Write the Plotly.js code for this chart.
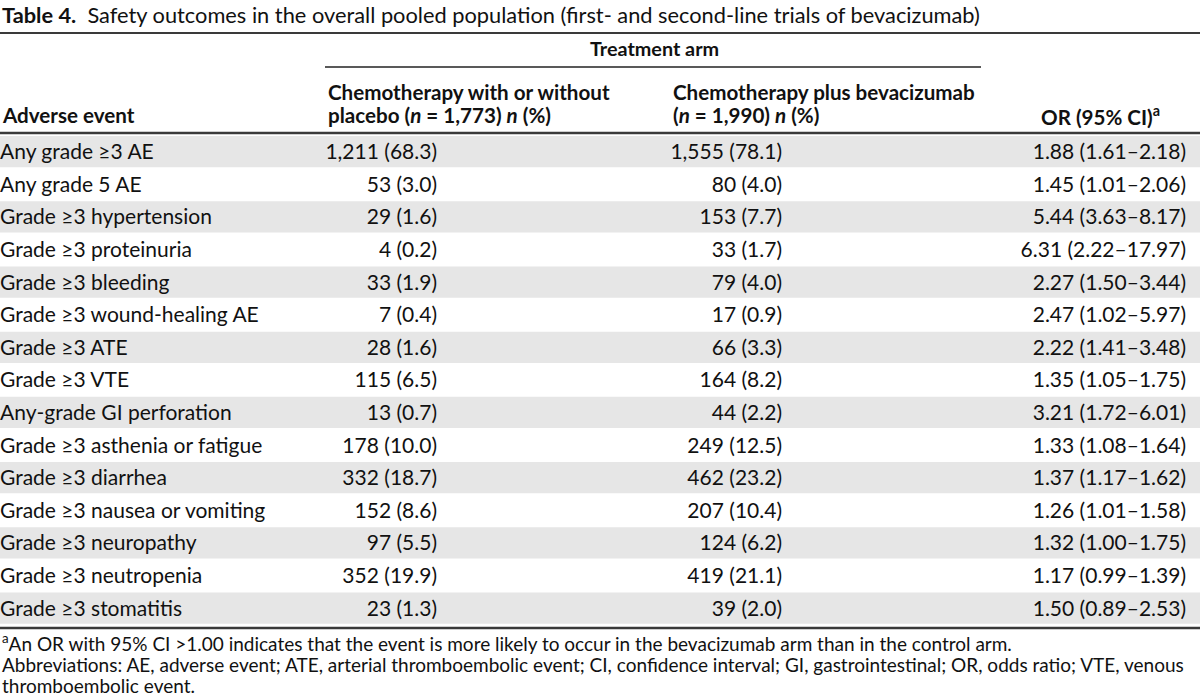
<!DOCTYPE html>
<html>
<head>
<meta charset="utf-8">
<script src="https://cdn.plot.ly/plotly-3.0.1.min.js"></script>
<style>html,body{margin:0;padding:0;background:#fff;}#chart{width:1200px;height:697px;}</style>
</head>
<body>
<div id="chart"></div>
<script>
// ---- data ----
const events = [
  "Any grade \u22653 AE", "Any grade 5 AE", "Grade \u22653 hypertension", "Grade \u22653 proteinuria",
  "Grade \u22653 bleeding", "Grade \u22653 wound-healing AE", "Grade \u22653 ATE", "Grade \u22653 VTE",
  "Any-grade GI perforation", "Grade \u22653 asthenia or fatigue", "Grade \u22653 diarrhea",
  "Grade \u22653 nausea or vomiting", "Grade \u22653 neuropathy", "Grade \u22653 neutropenia", "Grade \u22653 stomatitis"
];
const controlN   = [1211, 53, 29, 4, 33, 7, 28, 115, 13, 178, 332, 152, 97, 352, 23];
const controlPct = [68.3, 3.0, 1.6, 0.2, 1.9, 0.4, 1.6, 6.5, 0.7, 10.0, 18.7, 8.6, 5.5, 19.9, 1.3];
const bevN       = [1555, 80, 153, 33, 79, 17, 66, 164, 44, 249, 462, 207, 124, 419, 39];
const bevPct     = [78.1, 4.0, 7.7, 1.7, 4.0, 0.9, 3.3, 8.2, 2.2, 12.5, 23.2, 10.4, 6.2, 21.1, 2.0];
const orVal      = [1.88, 1.45, 5.44, 6.31, 2.27, 2.47, 2.22, 1.35, 3.21, 1.33, 1.37, 1.26, 1.32, 1.17, 1.50];
const orLo       = [1.61, 1.01, 3.63, 2.22, 1.50, 1.02, 1.41, 1.05, 1.72, 1.08, 1.17, 1.01, 1.00, 0.99, 0.89];
const orHi       = [2.18, 2.06, 8.17, 17.97, 3.44, 5.97, 3.48, 1.75, 6.01, 1.64, 1.62, 1.58, 1.75, 1.39, 2.53];

// ---- formatting ----
const fmtN = n => n.toLocaleString('en-US');
const cell = (n, p) => fmtN(n) + " (" + p.toFixed(1) + ")";
const controlText = controlN.map((n, i) => cell(n, controlPct[i]));
const bevText = bevN.map((n, i) => cell(n, bevPct[i]));
const orText = orVal.map((v, i) => v.toFixed(2) + " (" + orLo[i].toFixed(2) + "\u2013" + orHi[i].toFixed(2) + ")");

// ---- layout constants ----
const W = 1200, H = 697;
const FONT = "Lato, 'Open Sans', sans-serif";
const BODY = 21;
const rowTop = 152, rowPitch = 32.6;
const rowIdx = events.map((_, i) => i);
const yMin = -rowTop / rowPitch;
const yMax = yMin + H / rowPitch;
const py = p => 1 - p / H; // pixel -> paper

function textTrace(xpos, texts, pos) {
  return {
    type: 'scatter', mode: 'text',
    x: rowIdx.map(() => xpos), y: rowIdx.map(i => i + 0.06), text: texts,
    textposition: pos, cliponaxis: false, hoverinfo: 'skip',
    textfont: {family: FONT, size: BODY, color: '#111'}
  };
}

const traces = [
  textTrace(0, events, 'middle right'),
  textTrace(437, controlText, 'middle left'),
  textTrace(782, bevText, 'middle left'),
  textTrace(1186, orText, 'middle left')
];

const shapes = [];
rowIdx.filter(i => i % 2 === 0).forEach(i => {
  shapes.push({type: 'rect', xref: 'paper', yref: 'y', x0: 0, x1: 1, y0: i - 0.49, y1: i + 0.47,
    fillcolor: '#e6e6e6', line: {width: 0}, layer: 'below'});
});
const hline = (p, x0, x1, w, c) => ({type: 'line', xref: 'x', yref: 'paper', x0: x0, x1: x1, y0: py(p), y1: py(p),
  line: {color: c, width: w}});
shapes.push(hline(33, 0, 1200, 2.2, '#3a3a3a'));
shapes.push(hline(67, 325, 981, 1.6, '#222'));
shapes.push(hline(133, 0, 1200, 2.6, '#3a3a3a'));
shapes.push(hline(628, 0, 1200, 2.6, '#3a3a3a'));

const ann = (txt, x, p, xa, size, extra) => Object.assign({
  text: txt, xref: 'x', yref: 'paper', x: x, y: py(p), xanchor: xa, yanchor: 'middle',
  showarrow: false, font: {family: FONT, size: size, color: '#111'}
}, extra || {});

const HB = 20.6;
const FN = 19;
const annotations = [
  ann("<b>Table 4.</b>  Safety outcomes in the overall pooled population (first- and second-line trials of bevacizumab)", 0, 14, 'left', 21.8),
  ann("<b>Treatment arm</b>", 654, 48, 'center', 19.8),
  ann("<b>Adverse event</b>", 0, 115, 'left', HB),
  ann("<b>Chemotherapy with or without</b>", 326, 92, 'left', HB),
  ann("<b>placebo (<i>n</i> = 1,773) <i>n</i> (%)</b>", 326, 115, 'left', HB),
  ann("<b>Chemotherapy plus bevacizumab</b>", 671, 92, 'left', HB),
  ann("<b>(<i>n</i> = 1,990) <i>n</i> (%)</b>", 671, 115, 'left', HB),
  ann("<b>OR (95% CI)<sup>a</sup></b>", 1039, 115, 'left', HB),
  ann("<sup>a</sup>An OR with 95% CI &gt;1.00 indicates that the event is more likely to occur in the bevacizumab arm than in the control arm.", 0, 642, 'left', FN),
  ann("Abbreviations: AE, adverse event; ATE, arterial thromboembolic event; CI, confidence interval; GI, gastrointestinal; OR, odds ratio; VTE, venous", 0, 664, 'left', FN),
  ann("thromboembolic event.", 0, 685, 'left', FN)
];

const layout = {
  width: W, height: H,
  margin: {l: 0, r: 0, t: 0, b: 0, pad: 0},
  paper_bgcolor: '#fff', plot_bgcolor: '#fff',
  showlegend: false,
  xaxis: {range: [0, W], visible: false, fixedrange: true},
  yaxis: {range: [yMax, yMin], visible: false, fixedrange: true},
  shapes: shapes,
  annotations: annotations
};

Plotly.newPlot('chart', traces, layout, {staticPlot: true, displayModeBar: false});
</script>
</body>
</html>
